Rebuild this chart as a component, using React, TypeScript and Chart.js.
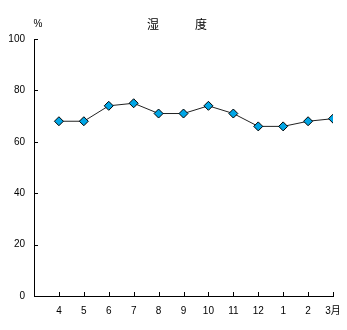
import React, { useEffect, useRef } from "react";
import { Chart, registerables } from "chart.js";

Chart.register(...registerables);

const months = ["4", "5", "6", "7", "8", "9", "10", "11", "12", "1", "2", "3月"];
const humidity = [68, 68, 74, 75, 71, 71, 74, 71, 66, 66, 68, 69];
const yTicks = [0, 20, 40, 60, 80, 100];
const titleChars = ["湿", "度"];
const unitText = "%";

const W = 347;
const H = 330;
const LEFT = 34;
const RIGHT = 333;
const TOP = 39;
const BOTTOM = 296;

const tickPlugin = {
  id: "innerTicks",
  afterDraw(chart: any) {
    const ctx = chart.ctx;
    const xs = chart.scales.x;
    const ys = chart.scales.y;
    const area = chart.chartArea;
    ctx.save();
    ctx.strokeStyle = "#000";
    ctx.lineWidth = 1;
    ctx.beginPath();
    for (let i = 1; i <= months.length; i++) {
      const x = Math.round(xs.getPixelForValue(i)) + 0.5;
      ctx.moveTo(x, area.bottom);
      ctx.lineTo(x, area.bottom - 4);
    }
    for (const v of yTicks) {
      const y = Math.round(ys.getPixelForValue(v)) + 0.5;
      ctx.moveTo(area.left, y);
      ctx.lineTo(area.left + 4, y);
    }
    ctx.stroke();
    ctx.fillStyle = "#000";
    ctx.textBaseline = "middle";
    ctx.font = "12px 'Noto Sans CJK JP'";
    ctx.textAlign = "center";
    ctx.fillText(titleChars[0], 153, 24);
    ctx.fillText(titleChars[1], 201, 24);
    ctx.font = "10px 'Liberation Sans'";
    ctx.fillText(unitText, 38, 24);
    ctx.restore();
  },
};

export default function App() {
  const ref = useRef<HTMLCanvasElement>(null);
  useEffect(() => {
    document.body.style.margin = "0";
    const chart = new Chart(ref.current as HTMLCanvasElement, {
      type: "line",
      data: {
        datasets: [
          {
            data: humidity.map((v, i) => ({ x: i + 1, y: v })),
            borderColor: "#222",
            borderWidth: 1,
            pointStyle: "rectRot",
            pointRadius: 4.5,
            pointBackgroundColor: "#00a6e6",
            pointBorderColor: "#000",
            pointBorderWidth: 1,
            tension: 0,
          },
        ],
      },
      options: {
        responsive: false,
        animation: false,
        layout: { padding: { top: TOP, right: W - RIGHT, left: 0, bottom: 0 } },
        plugins: { legend: { display: false }, title: { display: false }, tooltip: { enabled: false } },
        scales: {
          x: {
            type: "linear",
            min: 0,
            max: 12,
            grid: { display: false, drawTicks: false },
            border: { display: true, color: "#000", width: 1 },
            ticks: {
              stepSize: 1,
              autoSkip: false,
              maxRotation: 0,
              padding: 9,
              color: "#000",
              font: { family: "'Liberation Sans', 'Noto Sans CJK JP'", size: 10 },
              callback: (v: any) => (v >= 1 && v <= 12 ? months[v - 1] : ""),
            },
            afterFit: (s: any) => {
              s.height = H - BOTTOM;
              s.paddingLeft = 0;
              s.paddingRight = 0;
            },
          },
          y: {
            min: 0,
            max: 100,
            grid: { display: false, drawTicks: false },
            border: { display: true, color: "#000", width: 1 },
            ticks: {
              stepSize: 20,
              padding: 9,
              color: "#000",
              font: { family: "'Liberation Sans'", size: 10 },
            },
            afterFit: (s: any) => {
              s.width = LEFT;
              s.paddingTop = 0;
              s.paddingBottom = 0;
            },
          },
        },
      },
      plugins: [tickPlugin],
    });
    return () => chart.destroy();
  }, []);
  return (
    <div style={{ position: "absolute", left: 0, top: 0, width: W, height: H, background: "#fff" }}>
      <canvas ref={ref} width={W} height={H} />
    </div>
  );
}
